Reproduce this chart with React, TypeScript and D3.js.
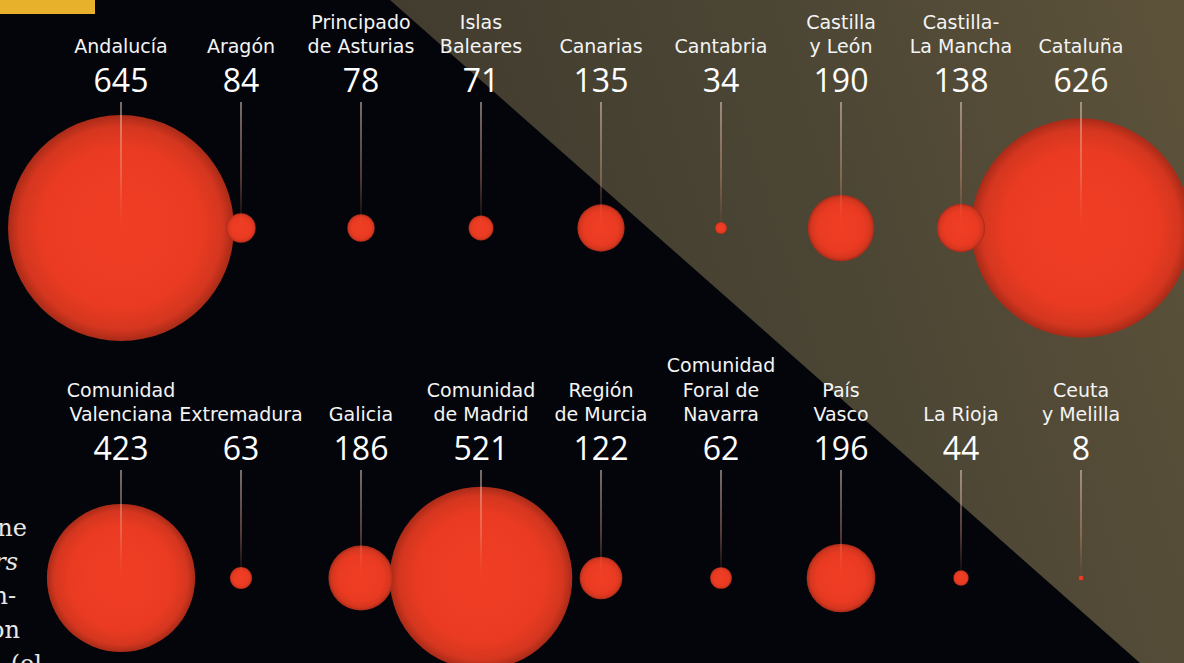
import React from "react";
import * as d3 from "d3";

const regionsTop: string[][] = [
  ["Andalucía"],
  ["Aragón"],
  ["Principado", "de Asturias"],
  ["Islas", "Baleares"],
  ["Canarias"],
  ["Cantabria"],
  ["Castilla", "y León"],
  ["Castilla-", "La Mancha"],
  ["Cataluña"],
];
const valuesTop: number[] = [645, 84, 78, 71, 135, 34, 190, 138, 626];

const regionsBottom: string[][] = [
  ["Comunidad", "Valenciana"],
  ["Extremadura"],
  ["Galicia"],
  ["Comunidad", "de Madrid"],
  ["Región", "de Murcia"],
  ["Comunidad", "Foral de", "Navarra"],
  ["País", "Vasco"],
  ["La Rioja"],
  ["Ceuta", "y Melilla"],
];
const valuesBottom: number[] = [423, 63, 186, 521, 122, 62, 196, 44, 8];

const sideText: { t: string; italic: boolean }[] = [
  { t: "ne", italic: false },
  { t: "rs", italic: true },
  { t: "n-", italic: false },
  { t: "on", italic: false },
  { t: "(el", italic: false },
];
const sideTextEnds = [27, 18, 16, 20, 42];

const W = 1184;
const H = 663;

export default function App() {
  const x = d3.scaleLinear().domain([0, 8]).range([121, 1081]);
  const r = d3.scaleLinear().domain([0, 645]).range([0, 113]);
  const rows = [
    { names: regionsTop, values: valuesTop, lastLine: 53, numBase: 92, cy: 228 },
    { names: regionsBottom, values: valuesBottom, lastLine: 421, numBase: 460, cy: 578 },
  ];
  const lineH = 24.5;
  const sans = "'DejaVu Sans', sans-serif";

  const circles: { cx: number; cy: number; rr: number; key: string }[] = [];
  rows.forEach((row, ri) =>
    row.values.forEach((v, i) =>
      circles.push({ cx: x(i), cy: row.cy, rr: Math.max(r(v), 2.5), key: `${ri}-${i}` })
    )
  );
  circles.sort((a, b) => b.rr - a.rr);

  return (
    <div style={{ position: "fixed", left: 0, top: 0, width: W, height: H }}>
      <svg width={W} height={H} style={{ display: "block" }}>
        <defs>
          <linearGradient id="olive" gradientUnits="userSpaceOnUse" x1={420} y1={300} x2={1184} y2={60}>
            <stop offset="0" stopColor="#403b2e" />
            <stop offset="0.5" stopColor="#4b4534" />
            <stop offset="1" stopColor="#5c523a" />
          </linearGradient>
          <radialGradient id="ball" cx="50%" cy="50%" r="50%">
            <stop offset="0" stopColor="#f03e24" />
            <stop offset="0.7" stopColor="#ea3b22" />
            <stop offset="0.9" stopColor="#d5361f" />
            <stop offset="1" stopColor="#a82b18" />
          </radialGradient>
          <linearGradient id="stem" x1="0" y1="0" x2="0" y2="1">
            <stop offset="0" stopColor="#f4ddd4" stopOpacity="0.8" />
            <stop offset="0.6" stopColor="#f0a890" stopOpacity="0.55" />
            <stop offset="1" stopColor="#f08060" stopOpacity="0" />
          </linearGradient>
        </defs>
        <rect x={0} y={0} width={W} height={H} fill="#04050a" />
        <polygon points={`390,0 ${W},0 ${W},${H} 1140,${H}`} fill="url(#olive)" />
        <rect x={0} y={0} width={95} height={14} fill="#e8b12c" />

        {sideText.map((s, i) => (
          <text
            key={i}
            x={sideTextEnds[i]}
            y={536 + i * 34}
            textAnchor="end"
            fill="#e8e8e8"
            fontFamily="'DejaVu Serif', 'Liberation Serif', serif"
            fontSize={24}
            fontStyle={s.italic ? "italic" : "normal"}
          >
            {s.t}
          </text>
        ))}

        {circles.map((c) => (
          <circle key={c.key} cx={c.cx} cy={c.cy} r={c.rr} fill="url(#ball)" />
        ))}

        {rows.map((row, ri) =>
          row.values.map((v, i) => (
            <g key={`${ri}-${i}`}>
              <rect
                x={x(i) - 0.6}
                y={row.numBase + 10}
                width={1.2}
                height={row.cy - row.numBase - 10}
                fill="url(#stem)"
              />
              {row.names[i].map((ln, li) => (
                <text
                  key={li}
                  x={x(i)}
                  y={row.lastLine - (row.names[i].length - 1 - li) * lineH}
                  textAnchor="middle"
                  fill="#f4f4f4"
                  fontFamily={sans}
                  fontSize={19}
                >
                  {ln}
                </text>
              ))}
              <text
                x={x(i)}
                y={row.numBase}
                textAnchor="middle"
                fill="#ffffff"
                fontFamily="'Open Sans', sans-serif"
                fontSize={32}
              >
                {v}
              </text>
            </g>
          ))
        )}
      </svg>
    </div>
  );
}
